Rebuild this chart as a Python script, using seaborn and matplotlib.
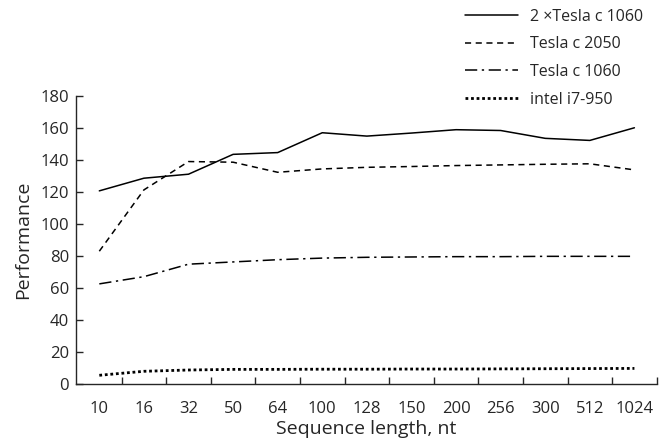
import numpy as np
import pandas as pd
import seaborn as sns
import matplotlib.pyplot as plt
from matplotlib.ticker import FixedLocator

# Sequence length categories (x axis)
seq_lengths = ["10", "16", "32", "50", "64", "100", "128", "150", "200", "256", "300", "512", "1024"]

# Performance per device
tesla_2x_1060 = [120.7, 128.6, 131.1, 143.5, 144.6, 157.0, 154.9, 156.8, 158.9, 158.4, 153.5, 152.2, 160.1]
tesla_c2050 = [83.0, 121.3, 139.0, 138.6, 132.3, 134.4, 135.4, 135.9, 136.5, 136.9, 137.3, 137.6, 133.8]
tesla_c1060 = [62.6, 67.1, 74.9, 76.3, 77.7, 78.7, 79.2, 79.4, 79.6, 79.6, 79.8, 79.8, 79.8]
intel_i7 = [5.5, 8.0, 8.8, 9.2, 9.2, 9.3, 9.3, 9.4, 9.4, 9.5, 9.6, 9.7, 9.8]

series_names = ["2 \u00d7Tesla c 1060", "Tesla c 2050", "Tesla c 1060", "intel i7-950"]
series_values = [tesla_2x_1060, tesla_c2050, tesla_c1060, intel_i7]
line_styles = ["-", (0, (4, 3)), (0, (8, 3, 1.5, 3)), (0, (1, 1))]
line_widths = [1.1, 1.1, 1.1, 2.0]

rows = []
for name, vals in zip(series_names, series_values):
    for i, v in enumerate(vals):
        rows.append({"pos": i, "value": v, "series": name})
df = pd.DataFrame(rows)

sns.set_style("ticks")
plt.rcParams["font.family"] = ["Open Sans", "DejaVu Sans"]

fig = plt.figure(figsize=(6.62, 4.42), dpi=100)
ax = fig.add_axes([0.115, 0.131, 0.877, 0.652])

handles = []
for name, ls, lw in zip(series_names, line_styles, line_widths):
    sub = df[df["series"] == name]
    sns.lineplot(data=sub, x="pos", y="value", ax=ax, color="black",
                 linewidth=lw, linestyle=ls, label=name, legend=False)
    handles.append(ax.lines[-1])

ax.set_xlim(-0.52, 12.5)
ax.set_ylim(0, 180)
ax.set_yticks(np.arange(0, 181, 20))
ax.set_xticks(range(len(seq_lengths)))
ax.set_xticklabels(seq_lengths)
ax.xaxis.set_minor_locator(FixedLocator(np.arange(0.5, 12.6, 1)))
ax.tick_params(axis="x", which="major", length=0, labelsize=12, pad=12)
ax.tick_params(axis="x", which="minor", direction="in", length=5, width=1)
ax.tick_params(axis="y", which="major", direction="in", length=5, width=1, labelsize=12, pad=5)
for s in ["top", "right"]:
    ax.spines[s].set_visible(False)
for s in ["left", "bottom"]:
    ax.spines[s].set_linewidth(1.0)

ax.set_xlabel("Sequence length, nt", fontsize=14, labelpad=2)
ax.set_ylabel("Performance", fontsize=14, labelpad=6)

fig.legend(handles=handles, labels=series_names, loc="upper left",
           bbox_to_anchor=(465 / 662, 1 - 9 / 442), frameon=False, fontsize=11.5,
           handlelength=3.3, labelspacing=0.72, handletextpad=0.75,
           borderpad=0, borderaxespad=0)

fig.savefig("out.png", dpi=100)
